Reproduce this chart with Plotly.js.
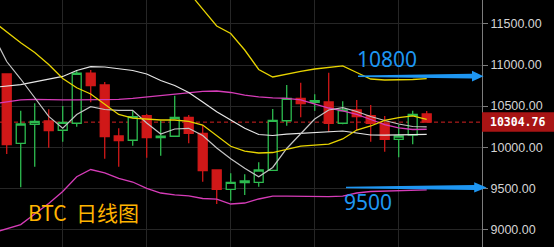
<!DOCTYPE html>
<html>
<head>
<meta charset="utf-8">
<script src="https://cdn.plot.ly/plotly-3.0.1.min.js"></script>
<style>
html,body{margin:0;padding:0;background:#000;}
#chart{width:554px;height:247px;}
</style>
</head>
<body>
<div id="chart"></div>
<script>
// ---- data ----
const candleIdx = [0,1,2,3,4,5,6,7,8,9,10,11,12,13,14,15,16,17,18,19,20,21,22,23,24,25,26,27,28,29,30];
const openP  = [10891,10047,10279,10319,10206,10291,10900,10757,10136,10084,10383,10116,10133,10364,10169,9722,9487,9568,9572,9718,10322,10595,10547,10550,10291,10453,10383,10291,10096,10148,10404];
const highP  = [10891,10444,10534,10461,10501,10928,10940,10794,10230,10444,10404,10322,10627,10392,10270,9722,9682,9670,9816,10465,10757,10785,10644,10907,10559,10575,10514,10380,10270,10444,10441];
const lowP   = [9917,9511,9762,9994,10067,10249,10547,9860,9762,10018,9872,9896,10133,10047,9580,9308,9348,9418,9519,9718,10262,10364,10444,10189,10280,10209,10067,9945,9876,10035,10300];
const closeP = [10030,10282,10315,10201,10303,10900,10749,10128,10079,10371,10116,10133,10364,10169,9714,9487,9572,9588,9722,10327,10595,10532,10566,10291,10453,10371,10291,10096,10136,10400,10304.76];

const lineIdx = [-1,0,1,2,3,4,5,6,7,8,9,10,11,12,13,14,15,16,17,18,19,20,21,22,23,24,25,26,27,28,29,30];
const yellowUpper = [null,null,null,null,null,null,null,null,null,null,null,null,null,12097,11884,11680,11476,11384,11183,10946,10855,10891,10922,10952,10970,10989,10909,10830,10818,10818,10824,10834];
const yellowMid   = [11536,11402,11271,11153,11007,10836,10723,10648,10526,10398,10353,10343,10331,10331,10313,10270,10136,10011,9953,9929,9935,9972,10014,10026,10036,10100,10209,10258,10325,10361,10380,10339];
const pinkMid     = [10526,10550,10575,10581,10575,10575,10575,10575,10575,10581,10593,10611,10623,10641,10662,10680,10684,10666,10635,10613,10601,10593,10575,10526,10477,10441,10398,10337,10276,10234,10215,10218];
const pinkLower   = [8955,9004,9058,9186,9314,9460,9640,9728,9686,9619,9576,9499,9442,9420,9408,9375,9367,9308,9320,9369,9405,9405,9402,9397,9399,9405,9442,9460,9466,9472,9475,9479];
const whiteSlow   = [10727,10745,10761,10794,10830,10861,10934,10980,10976,10958,10934,10891,10812,10751,10666,10550,10432,10331,10230,10154,10142,10160,10169,10181,10191,10197,10173,10148,10146,10151,10154,10157];
const whiteFast   = [11378,11043,10830,10605,10374,10230,10398,10493,10459,10447,10449,10294,10160,10221,10230,10141,9990,9860,9743,9640,9753,9984,10160,10343,10453,10481,10435,10374,10325,10282,10252,10246];

const yTicks = [9000,9500,10000,10500,11000,11500];
const yTickText = ['9000.00','9500.00','10000.00','10500.00','11000.00','11500.00'];
const xGridIdx = [4,10,16,22,28];

const lastPrice = 10304.76;
const lastPriceText = '10304.76';
const targetLabels = ['10800','9500'];
const targetArrowLevels = [10865,9510];
const chartTitle = 'BTC\u00a0\u00a0日线图';

// ---- layout helpers ----
const yRange = [8784.5, 11792];
const plotW = 482, plotH = 247;
const k = (yRange[1]-yRange[0])/plotH; // price per pixel

function arrowPath(level, x0px, x1px, t0, t1, headHalf, headLen){
  const xh = x1px - headLen;
  const P = (xp, dy) => (xp/plotW).toFixed(5) + ',' + (level - dy*k).toFixed(2);
  return 'M' + P(x0px, -t0/2) + ' L' + P(xh, -t1/2) + ' L' + P(xh, -headHalf) +
         ' L' + P(x1px, 0) + ' L' + P(xh, headHalf) + ' L' + P(xh, t1/2) +
         ' L' + P(x0px, t0/2) + ' Z';
}

const blue = '#1e96f2';

const traces = [
  {
    type:'candlestick', x:candleIdx, open:openP, high:highP, low:lowP, close:closeP,
    increasing:{line:{color:'#2dbb4f', width:1.3}, fillcolor:'#000000'},
    decreasing:{line:{color:'#d01818', width:1.3}, fillcolor:'#d01818'},
    whiskerwidth:0, hoverinfo:'skip'
  },
  {type:'scatter', mode:'lines', x:lineIdx, y:pinkLower, line:{color:'#d63cb8', width:1.3}, hoverinfo:'skip'},
  {type:'scatter', mode:'lines', x:lineIdx, y:pinkMid, line:{color:'#d63cb8', width:1.3}, hoverinfo:'skip'},
  {type:'scatter', mode:'lines', x:lineIdx, y:whiteSlow, line:{color:'#e6e6e6', width:1.2}, hoverinfo:'skip'},
  {type:'scatter', mode:'lines', x:lineIdx, y:whiteFast, line:{color:'#c4c4c4', width:1.2}, hoverinfo:'skip'},
  {type:'scatter', mode:'lines', x:lineIdx, y:yellowMid, line:{color:'#e8d400', width:1.3}, hoverinfo:'skip'},
  {type:'scatter', mode:'lines', x:lineIdx, y:yellowUpper, line:{color:'#e8d400', width:1.3}, hoverinfo:'skip'}
];

const layout = {
  width:554, height:247,
  margin:{l:0, r:72, t:0, b:0, pad:0},
  paper_bgcolor:'#000000', plot_bgcolor:'#000000',
  showlegend:false, hovermode:false,
  boxgap:0.36, boxgroupgap:0,
  xaxis:{
    range:[-0.48, 33.95], tickvals:xGridIdx, showticklabels:false, ticks:'',
    showgrid:true, gridcolor:'#262626', gridwidth:1, zeroline:false, showline:false,
    rangeslider:{visible:false}, fixedrange:true
  },
  yaxis:{
    side:'right', range:yRange, tickvals:yTicks, ticktext:yTickText,
    showgrid:true, gridcolor:'#262626', gridwidth:1, zeroline:false,
    showline:true, linecolor:'#7c7c7c', linewidth:1,
    ticks:'outside', ticklen:5, tickcolor:'#7c7c7c', tickwidth:1,
    tickfont:{family:'Liberation Sans, Arial, sans-serif', size:12.5, color:'#d4d4d4'},
    fixedrange:true
  },
  shapes:[
    {type:'line', xref:'paper', yref:'y', x0:0, x1:1, y0:lastPrice, y1:lastPrice,
     line:{color:'#d42222', width:1, dash:'4px,3px'}, layer:'below'},
    {type:'rect', xref:'paper', yref:'y', x0:1.0, x1:554/plotW, y0:lastPrice-9.5*k, y1:lastPrice+10*k,
     fillcolor:'#a81414', line:{width:0}, layer:'above'},
    {type:'path', xref:'paper', yref:'y', path:arrowPath(targetArrowLevels[0], 358, 483.5, 1.5, 4.8, 5.4, 11.5),
     fillcolor:blue, line:{width:0}, layer:'above'},
    {type:'path', xref:'paper', yref:'y', path:arrowPath(targetArrowLevels[1], 346, 486.7, 1.5, 5, 5.2, 12.5),
     fillcolor:blue, line:{width:0}, layer:'above'}
  ],
  annotations:[
    {xref:'paper', yref:'y', x:386.7/plotW, y:targetArrowLevels[0] + 17.5*k, text:targetLabels[0], showarrow:false,
     font:{family:'Noto Sans, sans-serif', size:21, color:blue}, xanchor:'center', yanchor:'middle'},
    {xref:'paper', yref:'y', x:368.3/plotW, y:targetArrowLevels[1] - 14.3*k, text:targetLabels[1], showarrow:false,
     font:{family:'Noto Sans, sans-serif', size:21, color:blue}, xanchor:'center', yanchor:'middle'},
    {xref:'paper', yref:'y', x:25.5/plotW, y:yRange[0] + 35*k, text:chartTitle, showarrow:false,
     font:{family:'Noto Sans CJK SC, sans-serif', size:21, color:'#ffb400'}, xanchor:'left', yanchor:'middle'},
    {xref:'paper', yref:'y', x:517/plotW, y:lastPrice, text:lastPriceText, showarrow:false,
     font:{family:'DejaVu Sans Mono, monospace', size:11.5, color:'#ffffff', weight:'bold'}, xanchor:'center', yanchor:'middle'}
  ]
};

Plotly.newPlot('chart', traces, layout, {displayModeBar:false, staticPlot:true});
</script>
</body>
</html>
